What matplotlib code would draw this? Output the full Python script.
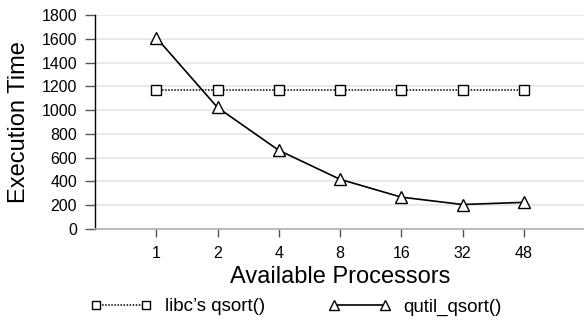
import matplotlib
matplotlib.use("Agg")
import matplotlib.pyplot as plt

# data
processors = ["1", "2", "4", "8", "16", "32", "48"]
libc_qsort = [1165, 1165, 1165, 1165, 1165, 1165, 1165]
qutil_qsort = [1610, 1022, 662, 418, 268, 206, 224]
y_ticks = [0, 200, 400, 600, 800, 1000, 1200, 1400, 1600, 1800]

plt.rcParams['font.family'] = ['Liberation Sans', 'DejaVu Sans']

fig = plt.figure(figsize=(5.84, 3.22), dpi=100)
ax = fig.add_axes([95 / 584, 1 - 229 / 322, 490 / 584, 214 / 322])

x = list(range(len(processors)))

# libc's qsort - dotted line with squares
ax.plot(x, libc_qsort, color='black', linestyle=(0, (1, 1)), linewidth=1.1,
        marker='s', markersize=6.5, markerfacecolor='white',
        markeredgecolor='black', markeredgewidth=1.0, label="libc\u2019s qsort()",
        zorder=3)
# qutil_qsort - solid line with triangles
ax.plot(x, qutil_qsort, color='black', linestyle='-', linewidth=1.2,
        marker='^', markersize=8.5, markerfacecolor='white',
        markeredgecolor='black', markeredgewidth=1.0, label="qutil_qsort()",
        zorder=4)

ax.set_xlim(-1, 7)
ax.set_ylim(0, 1800)
ax.set_xticks(x)
ax.set_xticklabels(processors)
ax.set_yticks(y_ticks)

# horizontal grid lines
ax.grid(axis='y', color='#ebe3de', linewidth=1.2)
ax.set_axisbelow(True)

ax.spines['top'].set_visible(False)
ax.spines['right'].set_visible(False)
ax.spines['left'].set_color('black')
ax.spines['left'].set_linewidth(1.0)
ax.spines['bottom'].set_color('#b0b0b0')
ax.spines['bottom'].set_linewidth(1.2)

ax.tick_params(axis='y', length=7, width=1.0, color='#555555', labelsize=11.5, pad=6)
ax.tick_params(axis='x', length=6, width=1.0, color='#555555', labelsize=11.5, pad=6)

ax.set_ylabel("Execution Time", fontsize=17, labelpad=8)
ax.set_xlabel("Available Processors", fontsize=17, labelpad=4)

fig.legend(loc='center', bbox_to_anchor=(296 / 584, 1 - 307 / 322), ncol=2,
           frameon=False, fontsize=13.5, handlelength=3.3, handletextpad=0.7,
           columnspacing=3.4, numpoints=2, markerscale=0.8)

plt.savefig("out.png", dpi=100)
